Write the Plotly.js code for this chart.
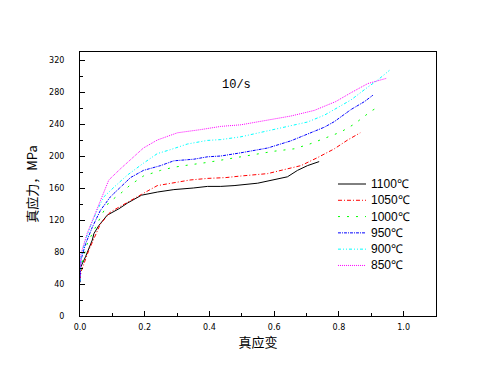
<!DOCTYPE html>
<html><head><meta charset="utf-8">
<script src="https://cdn.plot.ly/plotly-3.0.1.min.js"></script>
<style>html,body{margin:0;padding:0;background:#fff}#chart{width:478px;height:374px}</style>
</head><body><div id="chart"></div>
<script>
const names = ["1100℃","1050℃","1000℃","950℃","900℃","850℃"];
const colors = ["#000000","#ff0000","#00ff00","#0000ff","#00ffff","#ff00ff"];
const dashes = ["solid","4px,2px,1px,2px","2px,7px","3px,1px,1px,1px","3px,2px,1px,2px,1px,2px","1px,1px"];

const x1100 = [0, 0.002, 0.017, 0.038, 0.043, 0.058, 0.084, 0.12, 0.146, 0.19, 0.24, 0.29, 0.35, 0.394, 0.435, 0.476, 0.549, 0.6, 0.641, 0.672, 0.703, 0.739];
const y1100 = [42, 61, 74, 95, 103, 113, 126, 134, 141, 151, 155, 158, 160, 162, 162, 163, 166, 170, 174, 182, 188, 193];

const x1050 = [0, 0.003, 0.027, 0.038, 0.063, 0.094, 0.136, 0.19, 0.239, 0.29, 0.34, 0.394, 0.45, 0.497, 0.58, 0.631, 0.683, 0.734, 0.786, 0.827, 0.866];
const y1050 = [45, 55, 82, 92, 115, 130, 140, 152, 163, 167, 170, 172, 173, 175, 178, 183, 188, 198, 209, 220, 229];

const x1000 = [0, 0.003, 0.022, 0.048, 0.069, 0.089, 0.125, 0.156, 0.196, 0.249, 0.29, 0.34, 0.394, 0.497, 0.6, 0.662, 0.71, 0.755, 0.806, 0.848, 0.899, 0.92];
const y1000 = [45, 61, 90, 111, 128, 142, 153, 164, 175, 182, 186, 189, 192, 199, 206, 209, 215, 222, 230, 240, 256, 261];

const x950 = [0, 0.003, 0.017, 0.038, 0.063, 0.094, 0.125, 0.156, 0.196, 0.249, 0.29, 0.352, 0.394, 0.435, 0.497, 0.58, 0.652, 0.703, 0.755, 0.786, 0.837, 0.879, 0.905];
const y950 = [43, 70, 90, 111, 132, 149, 161, 173, 182, 188, 194, 196, 199, 200, 204, 210, 219, 227, 236, 243, 258, 268, 276];

const x900 = [0, 0.003, 0.017, 0.033, 0.053, 0.074, 0.105, 0.146, 0.196, 0.239, 0.28, 0.332, 0.394, 0.435, 0.497, 0.6, 0.703, 0.755, 0.806, 0.837, 0.889, 0.92, 0.956];
const y900 = [44, 74, 95, 113, 132, 149, 161, 176, 191, 203, 208, 215, 219.5, 220.5, 224, 233, 242.5, 251, 263, 270, 286, 295, 307];

const x850 = [0, 0.003, 0.022, 0.043, 0.063, 0.089, 0.125, 0.156, 0.196, 0.239, 0.301, 0.373, 0.435, 0.497, 0.58, 0.652, 0.724, 0.79, 0.837, 0.889, 0.946];
const y850 = [46, 78, 103, 124, 145, 170, 184, 195, 210, 220, 229, 233, 237, 239, 244.6, 250, 257, 268, 279, 290.5, 297];

const xs = [x1100, x1050, x1000, x950, x900, x850];
const ys = [y1100, y1050, y1000, y950, y900, y850];

const xTickVals = [0, 0.2, 0.4, 0.6, 0.8, 1.0];
const xTickText = ["0.0", "0.2", "0.4", "0.6", "0.8", "1.0"];
const yTickVals = [0, 40, 80, 120, 160, 200, 240, 280, 320];

const traces = names.map((n, i) => ({
  type: "scatter", mode: "lines", name: n, x: xs[i], y: ys[i],
  line: {color: colors[i], width: 1, dash: dashes[i]}
}));

// Custom legend (compact spacing like the original)
const legX0 = 0.7247, legX1 = 0.8034, legTextX = 0.8118, legY0 = 0.50, legDy = 0.0617;
const legendShapes = names.map((n, i) => ({
  type: "line", xref: "paper", yref: "paper",
  x0: legX0, x1: legX1, y0: legY0 - i * legDy, y1: legY0 - i * legDy,
  line: {color: colors[i], width: 1, dash: dashes[i]}
}));
const legendLabels = names.map((n, i) => ({
  text: n, xref: "paper", yref: "paper", x: legTextX, y: legY0 - i * legDy,
  xanchor: "left", yanchor: "middle", showarrow: false,
  font: {family: "Liberation Sans", size: 12, color: "#000"}
}));

const tickFont = {family: "DejaVu Sans", size: 8, color: "#000"};
const layout = {
  width: 478, height: 374,
  margin: {l: 80, r: 42, t: 52, b: 58},
  paper_bgcolor: "#fff", plot_bgcolor: "#fff",
  showlegend: false,
  xaxis: {range: [0, 1.1], tickvals: xTickVals, ticktext: xTickText, ticks: "inside", ticklen: 5,
    tickcolor: "#000", showline: true, linecolor: "#000", linewidth: 1, mirror: true,
    showgrid: false, zeroline: false, tickfont: tickFont, ticklabelstandoff: 3,
    minor: {dtick: 0.1, ticks: "inside", ticklen: 3, tickcolor: "#000", showgrid: false},
    title: {text: "真应变", font: {family: "Noto Sans CJK SC", size: 13, color: "#000"}, standoff: 6}},
  yaxis: {range: [0, 330], tickvals: yTickVals, ticks: "inside", ticklen: 5,
    tickcolor: "#000", showline: true, linecolor: "#000", linewidth: 1, mirror: true,
    showgrid: false, zeroline: false, tickfont: tickFont, ticklabelstandoff: 13,
    minor: {dtick: 20, ticks: "inside", ticklen: 3, tickcolor: "#000", showgrid: false},
    title: {text: "真应力，MPa", font: {family: "Noto Sans CJK SC", size: 13, color: "#000"}, standoff: 8}},
  shapes: legendShapes,
  annotations: [{text: "10/s", xref: "paper", yref: "paper", x: 0.44, y: 0.91, showarrow: false,
    font: {family: "Liberation Mono", size: 12, color: "#000"}}].concat(legendLabels)
};
Plotly.newPlot("chart", traces, layout, {displayModeBar: false, staticPlot: true});
</script></body></html>
